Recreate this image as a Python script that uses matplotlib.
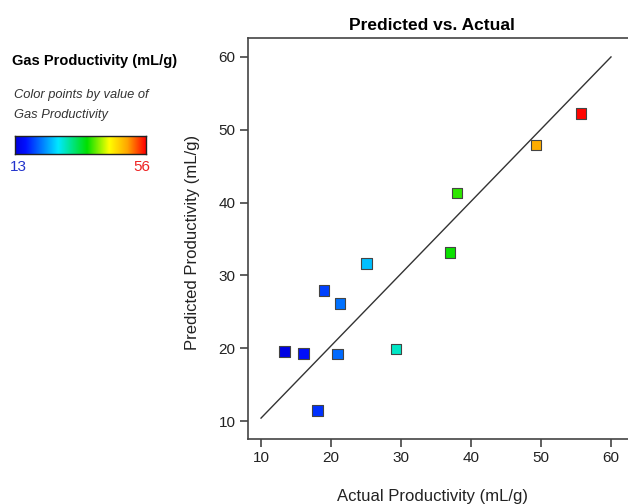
import numpy as np
import matplotlib
matplotlib.use('Agg')
import matplotlib.pyplot as plt
from matplotlib.colors import LinearSegmentedColormap, Normalize

plt.rcParams['font.family'] = ['Liberation Sans', 'DejaVu Sans']

# values
actual = [13.4, 16.1, 18.1, 19.0, 21.3, 20.9, 25.1, 29.3, 37.0, 38.0, 49.3, 55.7]
predicted = [19.5, 19.3, 11.4, 27.9, 26.1, 19.2, 31.6, 19.9, 33.1, 41.3, 47.9, 52.2]
line_x = [10, 60]
line_y = [10.4, 60]
cmin, cmax = 13, 56

cmap = LinearSegmentedColormap.from_list('gp', [
    (0.0, '#0000e0'), (0.08, '#0010ff'), (0.33, '#00e8ff'), (0.55, '#00e000'),
    (0.72, '#ffff00'), (0.86, '#ffa500'), (1.0, '#ff0000')])
norm = Normalize(cmin, cmax)

fig = plt.figure(figsize=(6.28, 5.04), dpi=100)
ax = fig.add_axes([248/628, 65/504, 384/628, 401/504])

ax.plot(line_x, line_y, color='#333333', lw=1.0, zorder=1)
ax.scatter(actual, predicted, c=actual, cmap=cmap, norm=norm, marker='s', s=60,
           edgecolors='#444444', linewidths=0.8, zorder=2)

ax.set_xlim(8.14, 63.0)
ax.set_ylim(7.53, 62.6)
ax.set_xticks([10, 20, 30, 40, 50, 60])
ax.set_yticks([10, 20, 30, 40, 50, 60])
for s in ax.spines.values():
    s.set_color('#444444')
    s.set_linewidth(1.2)
ax.tick_params(direction='out', length=6, width=1.2, color='#444444',
               labelsize=11, labelcolor='#222222', pad=3)

ax.set_title('Predicted vs. Actual', fontsize=12.5, fontweight='bold', x=0.48, pad=6)
ax.set_xlabel('Actual Productivity (mL/g)', fontsize=12, color='#222222')
ax.xaxis.set_label_coords(0.48, -0.125)
ax.set_ylabel('Predicted Productivity (mL/g)', fontsize=12, color='#222222')
ax.yaxis.set_label_coords(-0.125, 0.49)

# legend block
fig.text(12/628, 1 - 61/504, 'Gas Productivity (mL/g)', fontsize=10.5, fontweight='bold',
         va='center', ha='left')
fig.text(14/628, 1 - 95/504, 'Color points by value of', fontsize=9.3, style='italic',
         va='center', ha='left', color='#333333')
fig.text(14/628, 1 - 115/504, 'Gas Productivity', fontsize=9.3, style='italic',
         va='center', ha='left', color='#333333')

cax = fig.add_axes([15/628, 1 - 154/504, 131/628, 18/504])
grad = np.linspace(0, 1, 256).reshape(1, -1)
cax.imshow(grad, aspect='auto', cmap=cmap)
cax.set_xticks([])
cax.set_yticks([])
for s in cax.spines.values():
    s.set_color('#222222')
    s.set_linewidth(1.0)

fig.text(10/628, 1 - 167/504, str(cmin), fontsize=11, color='#2233cc', va='center', ha='left')
fig.text(150/628, 1 - 167/504, str(cmax), fontsize=11, color='#ee2222', va='center', ha='right')

fig.savefig('out.png', dpi=100)
